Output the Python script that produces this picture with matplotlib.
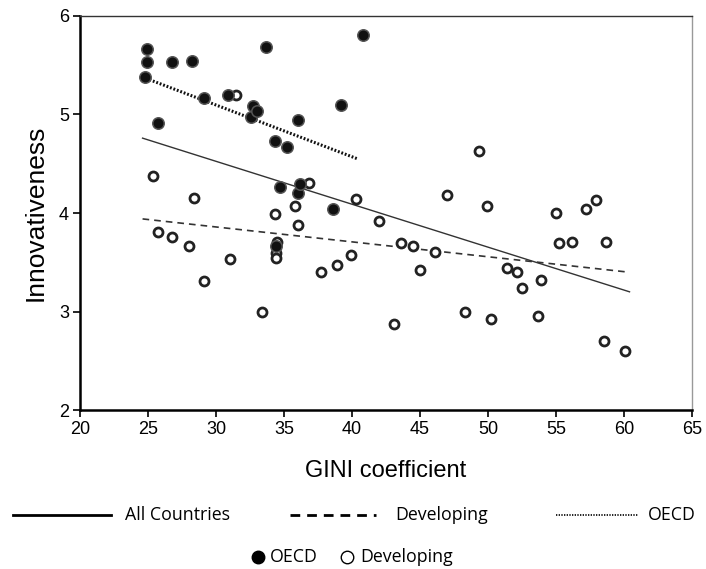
import matplotlib
matplotlib.use('Agg')
import matplotlib.pyplot as plt
from matplotlib.lines import Line2D

# OECD countries (filled markers)
oecd_gini = [24.9, 24.9, 24.8, 25.7, 26.8, 28.2, 29.1, 30.9, 32.6, 32.7, 33.0, 33.7,
             34.3, 35.2, 36.0, 40.8, 39.2, 34.7, 36.0, 36.2, 38.6, 34.4]
oecd_innov = [5.66, 5.53, 5.38, 4.91, 5.53, 5.54, 5.17, 5.20, 4.97, 5.09, 5.04, 5.69,
              4.73, 4.67, 4.94, 5.81, 5.10, 4.26, 4.20, 4.29, 4.04, 3.66]

# developing countries (open markers)
dev_gini = [31.5, 25.4, 28.4, 34.3, 35.8, 36.8, 40.3, 25.7, 26.8, 28.0, 29.1, 31.0,
            33.4, 34.5, 34.4, 34.4, 36.0, 37.7, 38.9, 39.9, 42.0, 49.3, 46.95, 49.9,
            43.6, 44.5, 46.1, 45.0, 43.1, 48.3, 50.2, 51.4, 52.1, 52.5, 53.9, 53.7,
            55.0, 55.2, 56.2, 57.2, 57.9, 58.7, 58.5, 60.1]
dev_innov = [5.20, 4.38, 4.15, 3.99, 4.07, 4.30, 4.14, 3.81, 3.76, 3.67, 3.31, 3.53,
             2.99, 3.71, 3.59, 3.54, 3.88, 3.40, 3.47, 3.57, 3.92, 4.63, 4.18, 4.07,
             3.70, 3.66, 3.60, 3.42, 2.87, 2.99, 2.92, 3.44, 3.40, 3.24, 3.32, 2.95,
             4.00, 3.70, 3.71, 4.04, 4.13, 3.71, 2.70, 2.60]

# fitted lines (end points)
all_fit_x = [24.6, 60.4]
all_fit_y = [4.76, 3.20]
dev_fit_x = [24.6, 60.3]
dev_fit_y = [3.94, 3.40]
oecd_fit_x = [24.6, 40.4]
oecd_fit_y = [5.38, 4.55]

x_ticks = [20, 25, 30, 35, 40, 45, 50, 55, 60, 65]
y_ticks = [2, 3, 4, 5, 6]

NARROW = ['Liberation Sans Narrow', 'Liberation Sans', 'DejaVu Sans']

fig = plt.figure(figsize=(7.06, 5.69), dpi=100)
ax = fig.add_axes([0.1133, 0.2794, 0.867, 0.6925])

ax.plot(all_fit_x, all_fit_y, color='#333333', lw=1.0, ls='-', zorder=2)
ax.plot(dev_fit_x, dev_fit_y, color='#333333', lw=1.2, ls=(0, (4, 3)), zorder=2)
ax.plot(oecd_fit_x, oecd_fit_y, color='#111111', lw=2.2, ls=(0, (0.6, 0.6)), zorder=2)

ax.scatter(dev_gini, dev_innov, s=42, facecolor='white', edgecolor='#222222',
           linewidth=2.0, zorder=3)
ax.scatter(oecd_gini, oecd_innov, s=68, facecolor='#111111', edgecolor='#555555',
           linewidth=1.1, zorder=4)

ax.set_xlim(20, 65)
ax.set_ylim(2, 6)
ax.set_xticks(x_ticks)
ax.set_yticks(y_ticks)
ax.tick_params(direction='out', length=5, width=1.2, labelsize=13, pad=3)
for lab in ax.get_xticklabels() + ax.get_yticklabels():
    lab.set_family(NARROW)

for side in ['left', 'bottom']:
    ax.spines[side].set_linewidth(1.8)
    ax.spines[side].set_color('black')
ax.spines['top'].set_linewidth(1.0)
ax.spines['top'].set_color('#333333')
ax.spines['right'].set_linewidth(1.0)
ax.spines['right'].set_color('#999999')

ax.set_ylabel('Innovativeness', fontsize=19, family='Liberation Sans', labelpad=8)
ax.set_xlabel('GINI coefficient', fontsize=17, family=NARROW, labelpad=16)

# legend rows under the chart
row1 = 1 - 515 / 569
row2 = 1 - 557 / 569
W = 706
fs = 12.8
fig.add_artist(Line2D([13 / W, 111 / W], [row1, row1], color='black', lw=2))
fig.text(125 / W, row1, 'All Countries', fontsize=fs, family='Open Sans', va='center')
fig.add_artist(Line2D([290 / W, 376 / W], [row1, row1], color='black', lw=2,
                      ls=(0, (3.5, 2.5))))
fig.text(395 / W, row1, 'Developing', fontsize=fs, family='Open Sans', va='center')
fig.add_artist(Line2D([556 / W, 638 / W], [row1, row1], color='black', lw=1.2,
                      ls=(0, (0.8, 0.8))))
fig.text(648 / W, row1, 'OECD', fontsize=fs, family='Open Sans', va='center')

fig.add_artist(Line2D([258 / W], [row2], marker='o', ms=9, color='black', ls='none'))
fig.text(270 / W, row2, 'OECD', fontsize=fs, family='Open Sans', va='center')
fig.add_artist(Line2D([347 / W], [row2], marker='o', ms=9, mfc='white', mec='black',
                      mew=1, ls='none'))
fig.text(360 / W, row2, 'Developing', fontsize=fs, family='Open Sans', va='center')

fig.savefig('out.png', dpi=100)
